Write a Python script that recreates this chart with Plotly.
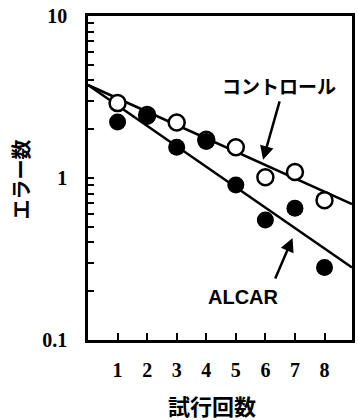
import plotly.graph_objects as go

trials = [1, 2, 3, 4, 5, 6, 7, 8]
control = [2.9, 2.45, 2.2, 1.72, 1.55, 1.01, 1.09, 0.73]
alcar = [2.22, 2.4, 1.55, 1.68, 0.906, 0.55, 0.65, 0.28]

fit_x = [0, 8.93]
control_fit = [3.75, 0.69]
alcar_fit = [3.75, 0.28]

y_tickvals = [0.1, 0.2, 0.3, 0.4, 0.5, 0.6, 0.7, 0.8, 0.9,
              1, 2, 3, 4, 5, 6, 7, 8, 9, 10]
y_ticktext = ["0.1"] + [""] * 8 + ["1"] + [""] * 8 + ["10"]
x_tickvals = trials
x_ticktext = [str(t) for t in trials]

fig = go.Figure()
fig.add_trace(go.Scatter(x=fit_x, y=control_fit, mode="lines",
                         line=dict(color="black", width=2.5), showlegend=False))
fig.add_trace(go.Scatter(x=fit_x, y=alcar_fit, mode="lines",
                         line=dict(color="black", width=2.5), showlegend=False))
fig.add_trace(go.Scatter(x=trials, y=control, mode="markers",
                         marker=dict(symbol="circle", size=16, color="white",
                                     line=dict(color="black", width=2.5)),
                         showlegend=False))
fig.add_trace(go.Scatter(x=trials, y=alcar, mode="markers",
                         marker=dict(symbol="circle", size=17, color="black",
                                     line=dict(color="black", width=0)),
                         showlegend=False))

tickfont = dict(family="Liberation Serif", size=20, color="black", weight="bold")
fig.update_xaxes(range=[0, 8.93], tickvals=x_tickvals, ticktext=x_ticktext,
                 ticks="inside", ticklen=7, tickwidth=2, tickcolor="black",
                 showline=True, linecolor="black", linewidth=2.5, mirror=True,
                 showgrid=False, zeroline=False, tickfont=tickfont,
                 ticklabelstandoff=10)
fig.update_yaxes(type="log", range=[-1, 1], tickvals=y_tickvals, ticktext=y_ticktext,
                 ticks="inside", ticklen=6, tickwidth=2, tickcolor="black",
                 showline=True, linecolor="black", linewidth=2.5, mirror=True,
                 showgrid=False, zeroline=False, tickfont=tickfont,
                 ticklabelstandoff=14)

common = dict(xref="paper", yref="paper", xanchor="center", yanchor="middle")
annotations = [
    dict(text="<b>コントロール</b>", x=0.723, y=0.787, showarrow=False,
         font=dict(family="Noto Sans CJK JP", size=19, color="black"), **common),
    dict(text="<b>ALCAR</b>", x=0.588, y=0.133, showarrow=False,
         font=dict(family="Liberation Sans", size=20, color="black"), **common),
    dict(text="", x=0.663, y=0.556, ax=17, ay=-60,
         showarrow=True, arrowhead=2, arrowsize=1.1, arrowwidth=2.5, arrowcolor="black",
         standoff=0, **common),
    dict(text="", x=0.775, y=0.315, ax=-18, ay=42,
         showarrow=True, arrowhead=2, arrowsize=1.1, arrowwidth=2.5, arrowcolor="black",
         standoff=0, **common),
    dict(text="<b>エラー数</b>", x=-0.255, y=0.494, textangle=-90, showarrow=False,
         font=dict(family="Noto Sans CJK JP", size=20, color="black"), **common),
    dict(text="<b>試行回数</b>", x=0.468, y=-0.2, showarrow=False,
         font=dict(family="Noto Sans CJK JP", size=22, color="black"), **common),
]

fig.update_layout(width=358, height=420, margin=dict(l=88, r=3, t=16, b=80),
                  paper_bgcolor="white", plot_bgcolor="white",
                  annotations=annotations)
fig.write_html("out.html")
